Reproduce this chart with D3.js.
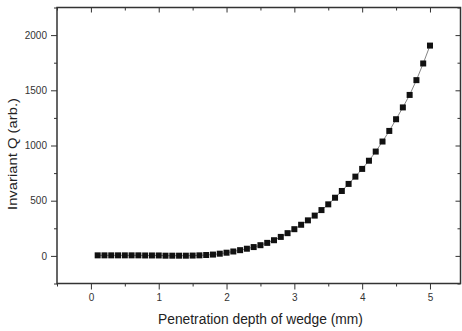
<!DOCTYPE html>
<html>
<head>
<meta charset="utf-8">
<script src="https://cdn.jsdelivr.net/npm/d3@7"></script>
<style>
  body { margin: 0; background: #fff; }
  svg { display: block; }
  .axis text { font-family: "Liberation Sans", Arial, sans-serif; font-size: 10px; fill: #333; }
  .axis path, .axis line { stroke: #333; }
</style>
</head>
<body>
<div id="chart"></div>
<script>
// penetration depth (mm)
const depth = [
  0.1, 0.2, 0.3, 0.4, 0.5, 0.6, 0.7, 0.8, 0.9, 1.0,
  1.1, 1.2, 1.3, 1.4, 1.5, 1.6, 1.7, 1.8, 1.9, 2.0,
  2.1, 2.2, 2.3, 2.4, 2.5, 2.6, 2.7, 2.8, 2.9, 3.0,
  3.1, 3.2, 3.3, 3.4, 3.5, 3.6, 3.7, 3.8, 3.9, 4.0,
  4.1, 4.2, 4.3, 4.4, 4.5, 4.6, 4.7, 4.8, 4.9, 5.0
];
// invariant Q (arb.)
const invariantQ = [
  5, 5, 5, 5, 5, 5, 5, 4, 4, 4,
  2, 2, 2, 2, 3, 5, 8, 12, 20, 29,
  40, 52, 65, 80, 97, 118, 142, 172, 206, 242,
  282, 322, 365, 415, 467, 527, 588, 652, 718, 788,
  862, 945, 1036, 1132, 1238, 1345, 1458, 1592, 1743, 1905
];
const xTicks = [0, 1, 2, 3, 4, 5];
const xMinor = [-0.5, 0.5, 1.5, 2.5, 3.5, 4.5];
const yTicks = [0, 500, 1000, 1500, 2000];
const yMinor = [-250, 250, 750, 1250, 1750, 2250];

const W = 462, H = 331;
const margin = {top: 7.5, right: 1.5, bottom: 47.5, left: 57};
const width = W - margin.left - margin.right;
const height = H - margin.top - margin.bottom;

const svg = d3.select("#chart").append("svg")
    .attr("width", W)
    .attr("height", H);

const g = svg.append("g")
    .attr("transform", `translate(${margin.left},${margin.top})`);

const x = d3.scaleLinear().domain([-0.5, 5.45]).range([0, width]);
const y = d3.scaleLinear().domain([-250, 2250]).range([height, 0]);

// minor ticks first so the major ones sit on top
g.append("g").attr("class", "axis")
    .attr("transform", `translate(0,${height})`)
    .call(d3.axisBottom(x).tickValues(xMinor).tickSize(3).tickFormat(""));
g.append("g").attr("class", "axis")
    .call(d3.axisLeft(y).tickValues(yMinor).tickSize(3).tickFormat(""));
g.append("g").attr("class", "axis")
    .call(d3.axisBottom(x).tickValues(xMinor).tickSize(3).tickFormat(""));
g.append("g").attr("class", "axis")
    .attr("transform", `translate(${width},0)`)
    .call(d3.axisLeft(y).tickValues(yMinor).tickSize(3).tickFormat(""));

// major ticks: outward on bottom/left, inward on top/right
g.append("g").attr("class", "axis")
    .attr("transform", `translate(0,${height})`)
    .call(d3.axisBottom(x).tickValues(xTicks).tickSize(6).tickPadding(4).tickFormat(d3.format("d")));
g.append("g").attr("class", "axis")
    .call(d3.axisLeft(y).tickValues(yTicks).tickSize(6).tickPadding(4).tickFormat(d3.format("d")));
g.append("g").attr("class", "axis")
    .call(d3.axisBottom(x).tickValues(xTicks).tickSize(5).tickFormat(""));
g.append("g").attr("class", "axis")
    .attr("transform", `translate(${width},0)`)
    .call(d3.axisLeft(y).tickValues(yTicks).tickSize(5).tickFormat(""));

g.selectAll(".axis path").remove();

// frame
g.append("rect")
    .attr("width", width)
    .attr("height", height)
    .attr("fill", "none")
    .attr("stroke", "#333")
    .attr("stroke-width", 1.5);

const pts = depth.map((d, i) => ({x: d, y: invariantQ[i]}));

g.append("path")
    .datum(pts)
    .attr("fill", "none")
    .attr("stroke", "#666")
    .attr("stroke-width", 0.8)
    .attr("d", d3.line().x(d => x(d.x)).y(d => y(d.y)));

const s = 6;
g.selectAll("rect.pt")
    .data(pts)
    .enter()
    .append("rect")
    .attr("class", "pt")
    .attr("x", d => x(d.x) - s / 2)
    .attr("y", d => y(d.y) - s / 2)
    .attr("width", s)
    .attr("height", s)
    .attr("fill", "#111");

// axis titles
svg.append("text")
    .attr("x", margin.left + x(2.5))
    .attr("y", 324)
    .attr("text-anchor", "middle")
    .style("font-family", "Liberation Sans, Arial, sans-serif")
    .style("font-size", "13.8px")
    .style("fill", "#222")
    .text("Penetration depth of wedge (mm)");

svg.append("text")
    .attr("transform", "translate(17,154) rotate(-90)")
    .attr("text-anchor", "middle")
    .attr("textLength", 112)
    .attr("lengthAdjust", "spacingAndGlyphs")
    .style("font-family", "Liberation Sans, Arial, sans-serif")
    .style("font-size", "13.5px")
    .style("fill", "#222")
    .text("Invariant Q (arb.)");
</script>
</body>
</html>
